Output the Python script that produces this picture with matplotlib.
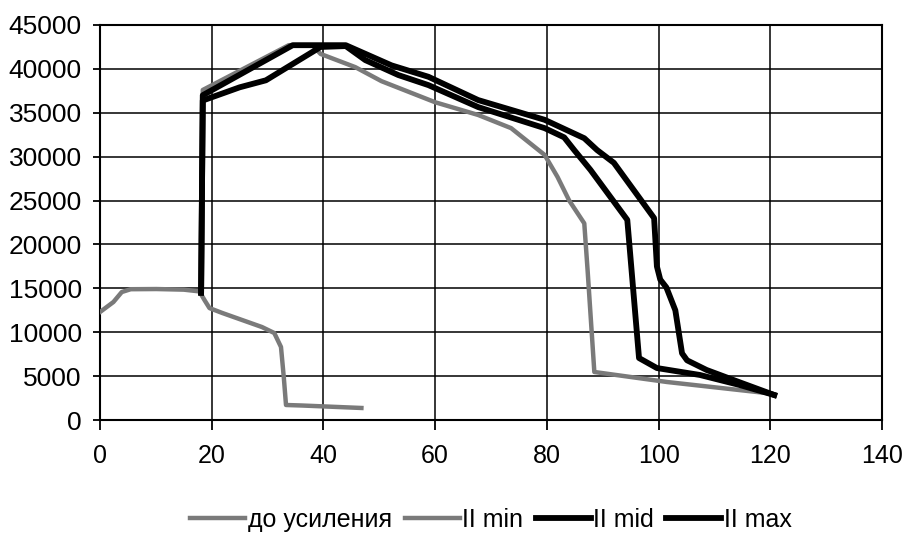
import matplotlib
matplotlib.use("Agg")
import matplotlib.pyplot as plt

plt.rcParams['font.family'] = ['Liberation Sans', 'DejaVu Sans']

# до усиления
x_before = [0, 2.4, 3.9, 5.5, 10.1, 15, 17.8, 18.7, 19.6, 21.9, 29, 31.2, 32.4, 32.9, 33.3, 36.2, 46.8]
y_before = [12300, 13440, 14580, 14900, 14920, 14850, 14650, 13670, 12750, 12190, 10590, 9910, 8320, 4900, 1710, 1650, 1370]

# II min
x_min = [18.1, 18.4, 33.8, 38, 39.5, 45.7, 50.4, 60, 67.7, 73.6, 79.6, 81.9, 84, 86.7, 87.3, 88.5, 101.5, 119.3]
y_min = [14500, 37600, 42700, 42700, 41700, 40200, 38600, 36200, 34750, 33250, 30200, 27700, 25000, 22400, 17000, 5470, 4330, 3070]

# II mid
x_mid = [18.1, 18.4, 25, 29.7, 39.5, 44, 47.5, 53.4, 58.8, 67.7, 79.6, 83.1, 84.9, 87.8, 94.4, 96.5, 99.7, 107.4, 114.5, 120.7]
y_mid = [14500, 36400, 37900, 38700, 42500, 42600, 41000, 39300, 38150, 35650, 33250, 32200, 30750, 28500, 22800, 7060, 5920, 5130, 3990, 2850]

# II max
x_max = [18.1, 18.4, 34.5, 44, 52.2, 58.8, 67.7, 79.6, 86.7, 89, 92, 99.2, 99.7, 100.3, 101.4, 103, 104.2, 105.1, 108.6, 114.5, 120.7]
y_max = [14500, 37000, 42700, 42700, 40400, 39100, 36450, 34200, 32100, 30750, 29300, 23000, 17500, 16000, 15100, 12500, 7600, 6800, 5700, 4300, 2850]

fig = plt.figure(figsize=(9.05, 5.33), dpi=100)
ax = fig.add_axes([100/905, 1 - 420/533, 782/905, 395/533])

ax.plot(x_before, y_before, color='#7a7a7a', lw=3.2, label='до усиления', zorder=3)
ax.plot(x_min, y_min, color='#7a7a7a', lw=3.2, label='II min', zorder=3)
ax.plot(x_mid, y_mid, color='black', lw=4.2, label='II mid', zorder=4)
ax.plot(x_max, y_max, color='black', lw=4.2, label='II max', zorder=4)

ax.set_xlim(0, 140)
ax.set_ylim(0, 45000)
ax.set_xticks(range(0, 141, 20))
ax.set_yticks(range(0, 45001, 5000))
ax.grid(True, color='black', lw=1.1)
ax.set_axisbelow(True)
for s in ax.spines.values():
    s.set_color('black')
    s.set_linewidth(1.5)
ax.tick_params(axis='x', direction='out', length=7, width=1.3, pad=10, labelsize=18)
ax.tick_params(axis='y', direction='out', length=5, width=1.3, pad=8, labelsize=19)

ax.legend(loc='upper center', bbox_to_anchor=(0.5, -0.165), ncol=4, frameon=False,
          fontsize=18, handlelength=2.2, handletextpad=0.1, columnspacing=0.5)

fig.savefig('out.png', dpi=100)
